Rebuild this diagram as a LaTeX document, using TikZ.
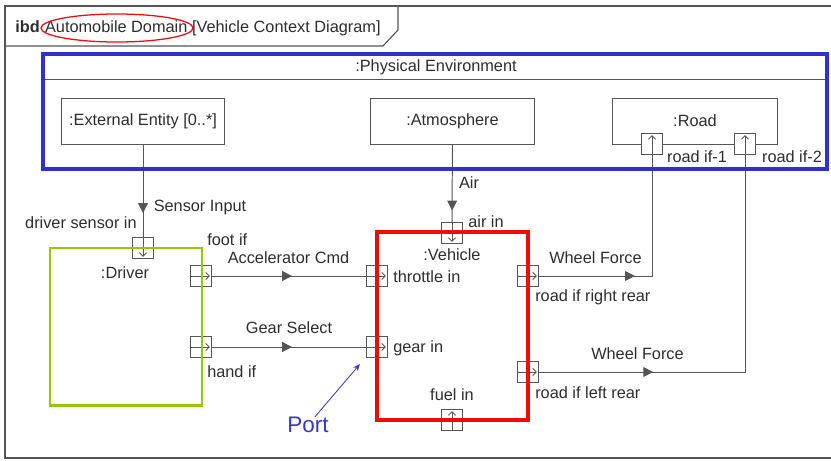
\documentclass[tikz,border=0pt]{standalone}
\usepackage{fontspec}
\setmainfont{Liberation Sans}
\usetikzlibrary{arrows.meta,positioning,decorations.markings}
\definecolor{envblue}{RGB}{48,48,205}
\definecolor{drvgreen}{RGB}{150,200,10}
\definecolor{vehred}{RGB}{240,10,10}
\definecolor{linegray}{RGB}{85,85,85}
\definecolor{textgray}{RGB}{45,45,45}
\definecolor{portblue}{RGB}{55,55,200}

\begin{document}
\begin{tikzpicture}[x=0.025cm, y=-0.025cm,
    every node/.style={font=\fontsize{11.6}{13}\selectfont, text=textgray, inner sep=0pt},
    part/.style={draw=linegray, line width=0.7pt, minimum height=1.15cm},
    port/.style={draw=linegray, fill=white, line width=0.6pt, minimum size=0.525cm},
    portdir/.style={linegray, line width=0.6pt, -{Straight Barb[length=2.5pt,width=5pt]}, shorten >=1.5pt},
    flow/.style={linegray, line width=0.7pt, postaction={decorate},
      decoration={markings, mark=at position #1 with {\arrow{Triangle[length=7pt,width=7pt]}}}}]
  \useasboundingbox (0,0) rectangle (831,461);
  \clip (0,0) rectangle (831,461);
  % Diagram frame and heading
  \draw[linegray, line width=0.8pt] (840,6) -- (5,6) -- (5,458) -- (840,458);
  \draw[linegray, line width=0.8pt] (5,46) -- (383,46) -- (398,30) -- (398,6);
  \node[anchor=base west] (ibd) at (15,32) {\textbf{ibd}};
  \node[base right=0.12cm of ibd] (domain) {Automobile Domain};
  \node[base right=0.1cm of domain] (context) {[Vehicle Context Diagram]};
  \draw[vehred, line width=0.9pt] (117,28) ellipse [x radius=1.9cm, y radius=0.35cm];
  % Physical environment
  \draw[linegray, line width=0.6pt] (43,79) -- (827,79);
  \node (envtitle) at (436,67) {:Physical Environment};
  \node[part, minimum width=4.05cm] (ext) at (143,121) {:External Entity [0..*]};
  \node[part, minimum width=4.075cm] (atm) at (452.5,121) {:Atmosphere};
  \node[part, minimum width=4.1cm] (road) at (695,121) {:Road};
  % Ports
  \node[port] (dsin) at (143,248) {};
  \node[port] (footif) at (201,276) {};
  \node[port] (handif) at (201,347) {};
  \node[port] (thrin) at (377,276) {};
  \node[port] (gearin) at (377,347) {};
  \node[port] (airin) at (452,233) {};
  \node[port] (fuelin) at (452,420) {};
  \node[port] (rrr) at (528,276) {};
  \node[port] (rlr) at (528,372) {};
  \node[port] (rif1) at (652,144) {};
  \node[port] (rif2) at (745,144) {};
  \draw[portdir] (dsin.north) -- (dsin.south);
  \draw[portdir] (airin.north) -- (airin.south);
  \draw[portdir] (fuelin.south) -- (fuelin.north);
  \draw[portdir] (rif1.south) -- (rif1.north);
  \draw[portdir] (rif2.south) -- (rif2.north);
  \draw[portdir] (footif.west) -- (footif.east);
  \draw[portdir] (handif.west) -- (handif.east);
  \draw[portdir] (thrin.west) -- (thrin.east);
  \draw[portdir] (gearin.west) -- (gearin.east);
  \draw[portdir] (rrr.west) -- (rrr.east);
  \draw[portdir] (rlr.west) -- (rlr.east);
  % Connectors
  \draw[flow=0.74] (ext) -- (dsin);
  \draw[flow=0.85] (atm) -- (airin);
  \draw[flow=0.52] (footif) -- (thrin);
  \draw[flow=0.52] (handif) -- (gearin);
  \draw[flow=0.41] (rrr) -| (rif1);
  \draw[flow=0.27] (rlr) -| (rif2);
  % Labels
  \node (lrif1) at (697,157) {road if-1};
  \node (lrif2) at (792,157) {road if-2};
  \node (lair) at (469,183) {Air};
  \node (lairin) at (486,222) {air in};
  \node (lsensor) at (200,207) {Sensor Input};
  \node[anchor=east] (ldsin) at (137,223) {driver sensor in};
  \node[anchor=west] (lfoot) at (207,240) {foot if};
  \node[anchor=west] (lhand) at (207,372) {hand if};
  \node (lacc) at (288.5,258) {Accelerator Cmd};
  \node (lgear) at (289,328) {Gear Select};
  \node[anchor=west] (lthr) at (393,277) {throttle in};
  \node[anchor=west] (lgearin) at (393,348) {gear in};
  \node (lfuel) at (452,395) {fuel in};
  \node (lwf1) at (595.5,258) {Wheel Force};
  \node (lwf2) at (637.5,354) {Wheel Force};
  \node[anchor=west] (lrrr) at (535,297) {road if right rear};
  \node[anchor=west] (lrlr) at (535,393) {road if left rear};
  \node (drvname) at (125,273) {:Driver};
  \node (vehname) at (452,255) {:Vehicle};
  % Highlights
  \node[draw=envblue, line width=2.8pt, minimum width=19.6cm, minimum height=2.875cm] (env) at (435,111.5) {};
  \node[draw=drvgreen, line width=2.1pt, minimum width=3.8cm, minimum height=3.925cm] (driver) at (126,326.5) {};
  \node[draw=vehred, line width=2.8pt, minimum width=3.775cm, minimum height=4.7cm] (vehicle) at (452.5,326) {};
  \node[text=portblue, font=\fontsize{16}{18}\selectfont] (lport) at (308,425) {Port};
  \coordinate (porttip) at (360,364);
  \draw[portblue, line width=0.6pt, -{Stealth[length=5pt,width=4pt]}] (lport) -- (porttip);
\end{tikzpicture}
\end{document}
